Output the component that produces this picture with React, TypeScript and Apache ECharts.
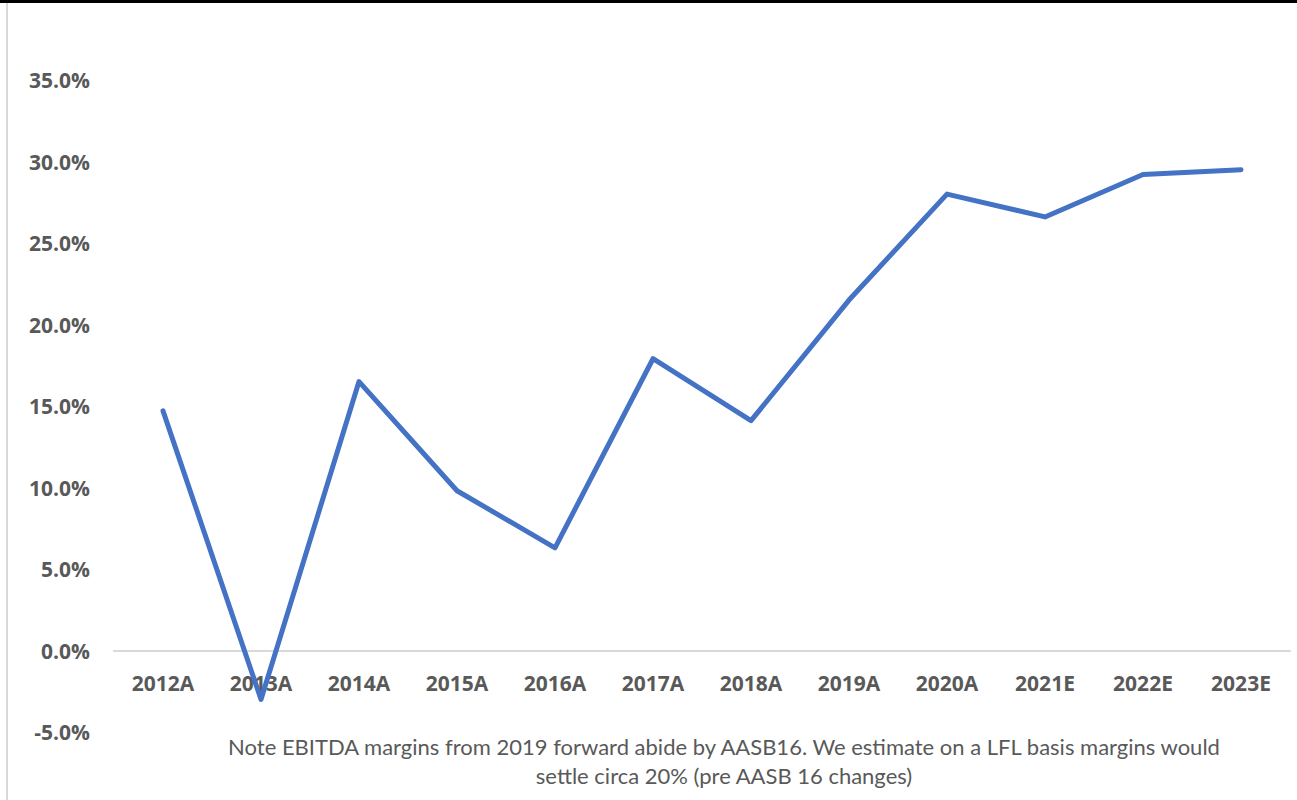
import React, { useEffect, useRef } from "react";
import * as echarts from "echarts";

const categories = ["2012A", "2013A", "2014A", "2015A", "2016A", "2017A", "2018A", "2019A", "2020A", "2021E", "2022E", "2023E"];
const margins = [14.7, -3.0, 16.5, 9.8, 6.3, 17.9, 14.1, 21.5, 28.0, 26.6, 29.2, 29.5];
const noteLines = [
  "Note EBITDA margins from 2019 forward abide by AASB16. We estimate on a LFL basis margins would",
  "settle circa 20% (pre AASB 16 changes)",
];

export default function App() {
  const ref = useRef<HTMLDivElement>(null);
  useEffect(() => {
    if (!ref.current) return;
    const chart = echarts.init(ref.current, null, { renderer: "svg" });
    chart.setOption({
      animation: false,
      backgroundColor: "#ffffff",
      grid: { left: 114, right: 7, top: 80, bottom: 68, containLabel: false },
      xAxis: {
        type: "category",
        data: categories,
        boundaryGap: true,
        offset: -81.5,
        axisLine: { show: true, onZero: false, lineStyle: { color: "#d9d9d9", width: 2 } },
        axisTick: { show: false },
        axisLabel: { color: "#595959", fontWeight: "bold", fontSize: 21, fontFamily: "Open Sans", margin: 22 },
      },
      yAxis: {
        type: "value",
        min: -5,
        max: 35,
        interval: 5,
        axisLine: { show: false },
        axisTick: { show: false },
        splitLine: { show: false },
        axisLabel: {
          color: "#595959",
          fontWeight: "bold",
          fontSize: 21,
          fontFamily: "Open Sans",
          margin: 24,
          formatter: (v: number) => v.toFixed(1) + "%",
        },
      },
      series: [
        {
          type: "line",
          data: margins,
          symbol: "none",
          lineStyle: { color: "#4472C4", width: 5, cap: "round", join: "round" },
          z: 3,
        },
      ],
      graphic: [
        { type: "line", shape: { x1: 0, y1: 1.5, x2: 1297, y2: 1.5 }, style: { stroke: "#000000", lineWidth: 3 } },
        { type: "line", shape: { x1: 7, y1: 3, x2: 7, y2: 800 }, style: { stroke: "#d9d9d9", lineWidth: 2 } },
        {
          type: "text",
          x: 724,
          y: 746,
          style: { text: noteLines[0], fill: "#595959", fontSize: 22, fontFamily: "Lato", align: "center", verticalAlign: "middle" },
        },
        {
          type: "text",
          x: 724,
          y: 775,
          style: { text: noteLines[1], fill: "#595959", fontSize: 22, fontFamily: "Lato", align: "center", verticalAlign: "middle" },
        },
      ],
    });
    return () => chart.dispose();
  }, []);
  return <div ref={ref} style={{ position: "fixed", left: 0, top: 0, width: 1297, height: 800 }} />;
}
